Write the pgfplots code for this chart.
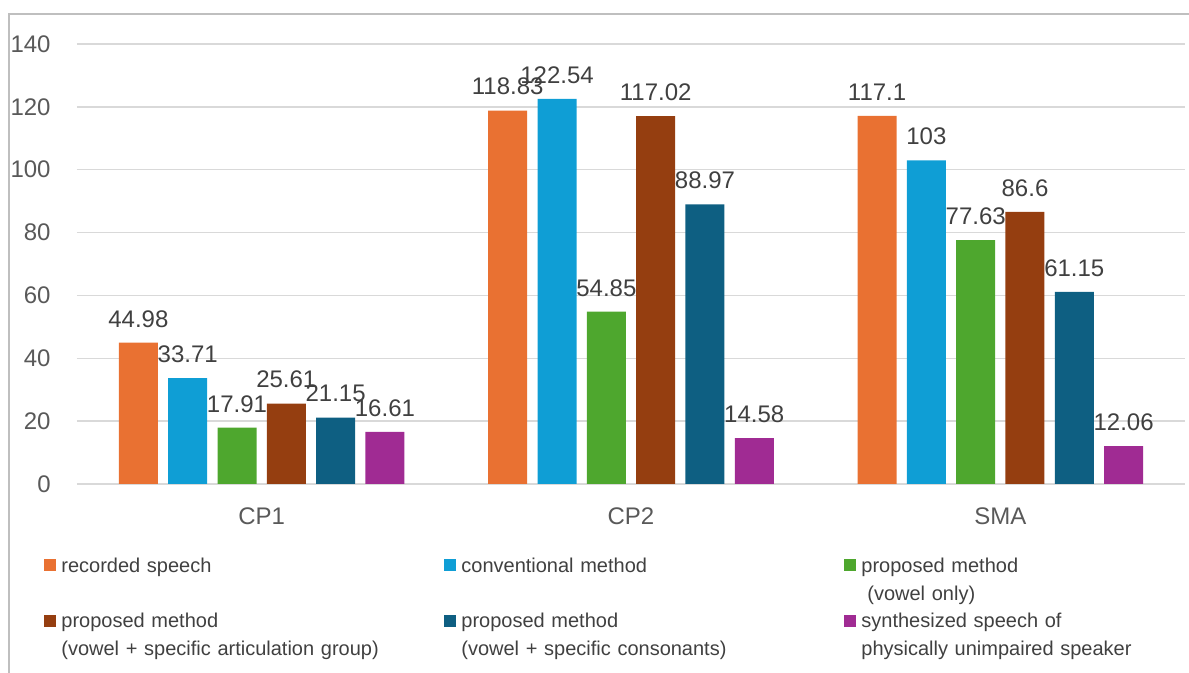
\documentclass[border=0pt]{standalone}
\usepackage{fontspec}
\setmainfont{Liberation Sans}
\usepackage{pgfplots}
\pgfplotsset{compat=1.18}
\definecolor{cOrange}{HTML}{E97132}
\definecolor{cBlue}{HTML}{0F9ED5}
\definecolor{cGreen}{HTML}{4EA72E}
\definecolor{cBrown}{HTML}{953E10}
\definecolor{cNavy}{HTML}{0E5F82}
\definecolor{cPurple}{HTML}{A02B93}
\definecolor{gridgray}{HTML}{D9D9D9}
\definecolor{tickgray}{HTML}{595959}
\definecolor{labelgray}{HTML}{404040}
\definecolor{framegray}{HTML}{BFBFBF}
\begin{document}
\begin{tikzpicture}
\path[use as bounding box] (-38.5pt,-94.5pt) rectangle (556pt,242pt);
\draw[framegray, line width=0.75pt] (-34pt,-95pt) -- (-34pt,235pt) -- (557pt,235pt);
\begin{axis}[
  /pgf/number format/assume math mode=true,
  scale only axis,
  width=554pt, height=220pt,
  xmin=-0.5, xmax=2.5,
  ymin=0, ymax=140,
  ytick={0,20,...,140},
  xtick={0,1,2},
  xticklabels={CP1,CP2,SMA},
  ymajorgrids,
  grid style={gridgray, line width=0.75pt},
  axis line style={draw=none},
  major tick style={draw=none},
  ticklabel style={font=\fontsize{12}{14}\selectfont, text=tickgray},
  yticklabel style={inner sep=0pt, anchor=east, xshift=-13pt},
  xticklabel style={inner sep=0pt, anchor=base, yshift=-15.8pt},
  ybar, bar width=19.5pt,
  every axis plot/.append style={bar shift=0pt, draw=none},
  nodes near coords,
  every node near coord/.append style={font=\fontsize{12}{14}\selectfont, text=labelgray, inner sep=0pt, anchor=base, yshift=7.8pt},
  legend columns=3,
  legend cell align=left,
  legend image code/.code={\fill[#1,draw=none] (0pt,0.5pt) rectangle (6pt,6.5pt);},
  legend style={at={(axis description cs:0,0)}, anchor=north west, xshift=-16.5pt, yshift=-36.7pt,
    draw=none, fill=none, inner sep=0pt, row sep=19pt,
    font=\fontsize{10}{14}\selectfont, text=labelgray,
    /tikz/every odd column/.append style={column sep=2.5pt},
    /tikz/every even column/.append style={column sep=0pt},
    nodes={inner sep=0pt, text width=191.5pt, align=left, anchor=base west}},
]
\addplot[fill=cOrange] coordinates {(-0.33375,44.98) (0.66625,118.83) (1.66625,117.1)};
\addlegendentry{recorded speech}
\addplot[fill=cBlue] coordinates {(-0.20025,33.71) (0.79975,122.54) (1.79975,103)};
\addlegendentry{conventional method}
\addplot[fill=cGreen] coordinates {(-0.06675,17.91) (0.93325,54.85) (1.93325,77.63)};
\addlegendentry{proposed method\\\hspace*{0.3em}(vowel only)}
\addplot[fill=cBrown] coordinates {(0.06675,25.61) (1.06675,117.02) (2.06675,86.6)};
\addlegendentry{proposed method\\(vowel + specific articulation group)}
\addplot[fill=cNavy] coordinates {(0.20025,21.15) (1.20025,88.97) (2.20025,61.15)};
\addlegendentry{proposed method\\(vowel + specific consonants)}
\addplot[fill=cPurple] coordinates {(0.33375,16.61) (1.33375,14.58) (2.33375,12.06)};
\addlegendentry{synthesized speech of\\physically unimpaired speaker}
\end{axis}
\end{tikzpicture}
\end{document}
